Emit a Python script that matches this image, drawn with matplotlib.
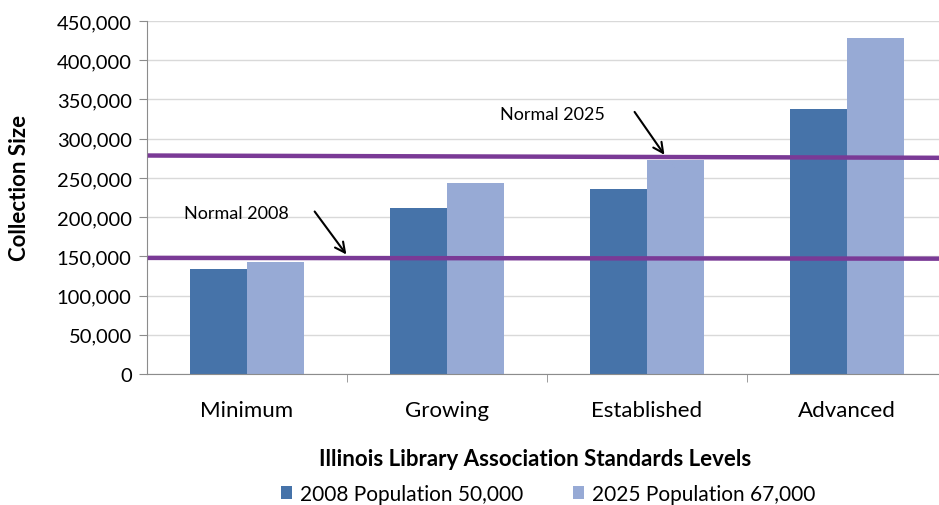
import matplotlib
matplotlib.use("Agg")
import matplotlib.pyplot as plt
import numpy as np
from matplotlib.ticker import FuncFormatter, FixedLocator

categories = ["Minimum", "Growing", "Established", "Advanced"]
series_names = ["2008 Population 50,000", "2025 Population 67,000"]
values_2008 = [134000, 212000, 236000, 338000]
values_2025 = [143000, 244000, 273000, 428000]
normal_2008 = 148000
normal_2025 = 277000

plt.rcParams['font.family'] = ['Lato', 'DejaVu Sans']

fig = plt.figure(figsize=(9.39, 5.06), dpi=100)
ax = fig.add_axes([147/939, 1-375/506, 800/939, 353/506])

x = np.arange(len(categories))
w = 0.285
c1 = "#4673A9"
c2 = "#97AAD5"
b1 = ax.bar(x - w/2, values_2008, w, color=c1, label=series_names[0], zorder=2)
b2 = ax.bar(x + w/2, values_2025, w, color=c2, label=series_names[1], zorder=2)

ax.set_xlim(-0.5, 3.5)
ax.set_ylim(0, 450000)
ax.yaxis.set_major_locator(FixedLocator(np.arange(0, 450001, 50000)))
ax.yaxis.set_major_formatter(FuncFormatter(lambda v, p: f"{int(v):,}"))
ax.grid(axis='y', color="#D9D9D9", lw=1, zorder=0)
ax.set_axisbelow(True)

for s in ['top', 'right']:
    ax.spines[s].set_visible(False)
for s in ['left', 'bottom']:
    ax.spines[s].set_color("#8C8C8C")
ax.set_xticks(x)
ax.set_xticklabels(categories, fontsize=16)
ax.xaxis.set_minor_locator(FixedLocator([0.5, 1.5, 2.5]))
ax.tick_params(axis='x', which='major', length=0, pad=19)
ax.tick_params(axis='x', which='minor', length=6, color="#8C8C8C", direction='out')
ax.tick_params(axis='y', length=6, color="#8C8C8C", labelsize=14.5, pad=5)

purple = "#7A3A96"
ax.plot([-0.485, 3.6], [normal_2025 + 1500, normal_2025 - 1500], color=purple, lw=3.2, zorder=3, clip_on=False)
ax.plot([-0.485, 3.6], [normal_2008, normal_2008 - 1000], color=purple, lw=3.2, zorder=3, clip_on=False)

ax.annotate("", xy=(0.505, normal_2008 + 1500), xytext=(0.33, 210000),
            arrowprops=dict(arrowstyle="->", color="black", lw=1.5, mutation_scale=18), zorder=4)
ax.text(-0.315, 205000, "Normal 2008", fontsize=13, va='center', ha='left', zorder=4)
ax.annotate("", xy=(2.095, normal_2025 - 500), xytext=(1.93, 337000),
            arrowprops=dict(arrowstyle="->", color="black", lw=1.5, mutation_scale=18), zorder=4)
ax.text(1.265, 331000, "Normal 2025", fontsize=13, va='center', ha='left', zorder=4)

ax.set_ylabel("Collection Size", fontsize=16, fontweight='bold')
ax.yaxis.set_label_coords((20 - 147) / 800, (375 - 188) / 353)
ax.yaxis.label.set_va('center')
ax.set_xlabel("Illinois Library Association Standards Levels", fontsize=16, fontweight='bold')
ax.xaxis.set_label_coords((535 - 147) / 800, -(460 - 375) / 353)
ax.xaxis.label.set_va('center')

fig.legend(handles=[b1, b2], labels=series_names, loc='center', bbox_to_anchor=(548/939, 1-495/506),
           ncol=2, frameon=False, fontsize=15, handlelength=0.55, handleheight=0.55,
           handletextpad=0.35, columnspacing=2.4, borderaxespad=0)

fig.savefig("out.png", dpi=100)
